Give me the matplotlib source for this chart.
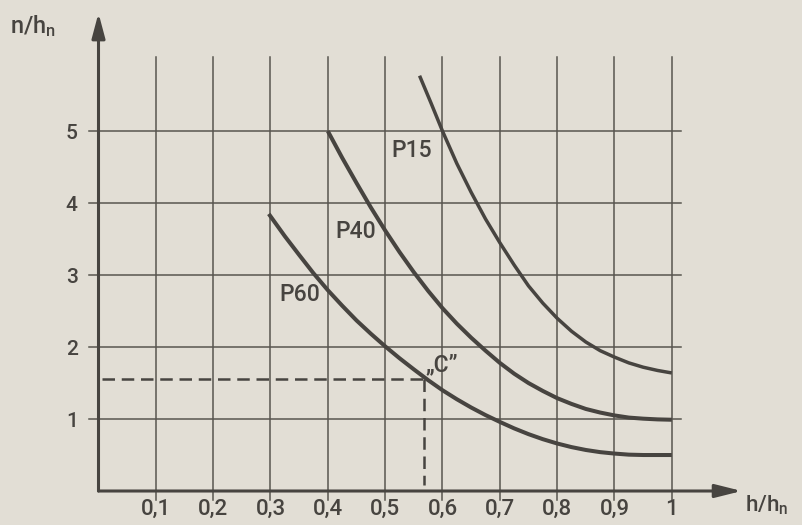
import matplotlib
matplotlib.use("Agg")
import matplotlib.pyplot as plt

# ---- data ----
x_ticks = [0.1, 0.2, 0.3, 0.4, 0.5, 0.6, 0.7, 0.8, 0.9, 1.0]
x_tick_labels = ["0,1", "0,2", "0,3", "0,4", "0,5", "0,6", "0,7", "0,8", "0,9", "1"]
y_ticks = [1, 2, 3, 4, 5]
y_tick_labels = ["1", "2", "3", "4", "5"]

p15_x = [0.56, 0.58, 0.60, 0.625, 0.65, 0.675, 0.70, 0.725, 0.75, 0.775, 0.80,
         0.825, 0.85, 0.875, 0.90, 0.925, 0.95, 0.975, 1.00]
p15_y = [5.77, 5.39, 5.00, 4.55, 4.15, 3.78, 3.45, 3.14, 2.85, 2.61, 2.40,
         2.22, 2.07, 1.95, 1.86, 1.78, 1.72, 1.675, 1.64]

p40_x = [0.40, 0.425, 0.45, 0.475, 0.50, 0.525, 0.55, 0.575, 0.60, 0.625, 0.65,
         0.675, 0.70, 0.725, 0.75, 0.775, 0.80, 0.825, 0.85, 0.875, 0.90, 0.925,
         0.95, 0.975, 1.00]
p40_y = [5.00, 4.63, 4.28, 3.94, 3.62, 3.32, 3.04, 2.78, 2.54, 2.325, 2.13,
         1.95, 1.78, 1.63, 1.50, 1.39, 1.29, 1.21, 1.14, 1.09, 1.05, 1.02,
         1.005, 0.995, 0.99]

p60_x = [0.297, 0.325, 0.35, 0.375, 0.40, 0.425, 0.45, 0.475, 0.50, 0.525, 0.55,
         0.575, 0.60, 0.625, 0.65, 0.675, 0.70, 0.725, 0.75, 0.775, 0.80, 0.825,
         0.85, 0.875, 0.90, 0.925, 0.95, 0.975, 1.00]
p60_y = [3.85, 3.54, 3.28, 3.025, 2.79, 2.575, 2.37, 2.185, 2.01, 1.845, 1.69,
         1.54, 1.40, 1.275, 1.16, 1.055, 0.96, 0.87, 0.79, 0.72, 0.66, 0.61,
         0.57, 0.54, 0.52, 0.505, 0.50, 0.50, 0.50]

curve_labels = ["P15", "P40", "P60"]
label_pos = [(0.547, 4.73), (0.449, 3.61), (0.351, 2.73)]

point_c = (0.567, 1.55)
point_c_label = "\u201eC\u201d"

# ---- style ----
BG = "#e2ded5"
INK = "#474440"
GRID = "#58554f"
FONT = ["Roboto", "Liberation Sans", "DejaVu Sans"]
WEIGHT = 500

plt.rcParams["mathtext.fontset"] = "custom"
plt.rcParams["mathtext.rm"] = "Roboto:medium"
plt.rcParams["mathtext.it"] = "Roboto:medium"

fig = plt.figure(figsize=(8.03, 5.25), dpi=100)
fig.patch.set_facecolor(BG)
ax = fig.add_axes([98.5 / 803, 34 / 525, 582.5 / 803, 434 / 525])
ax.set_facecolor(BG)
ax.set_xlim(0, 1.016)
ax.set_ylim(0, 6.03)
for s in ax.spines.values():
    s.set_visible(False)

# grid
for xv in x_ticks:
    ax.plot([xv, xv], [-0.12, 6.03], color=GRID, lw=1.1, clip_on=False, zorder=1)
for yv in y_ticks:
    ax.plot([-0.017, 1.016], [yv, yv], color=GRID, lw=1.1, clip_on=False, zorder=1)

# axes with arrows
ax.annotate("", xy=(0, 6.64), xytext=(0, 0), xycoords="data",
            arrowprops=dict(arrowstyle="-|>,head_length=0.75,head_width=0.2",
                            mutation_scale=20, lw=2.2, color=INK,
                            shrinkA=0, shrinkB=0), annotation_clip=False, zorder=4)
ax.annotate("", xy=(1.122, 0), xytext=(0, 0), xycoords="data",
            arrowprops=dict(arrowstyle="-|>,head_length=0.8,head_width=0.2",
                            mutation_scale=20, lw=2.2, color=INK,
                            shrinkA=0, shrinkB=0), annotation_clip=False, zorder=4)

# curves
for xs, ys, lw in [(p15_x, p15_y, 2.5), (p40_x, p40_y, 2.9), (p60_x, p60_y, 2.9)]:
    ax.plot(xs, ys, color=INK, lw=lw, solid_capstyle="butt",
            solid_joinstyle="round", zorder=3)

for txt, (lx, ly) in zip(curve_labels, label_pos):
    ax.text(lx, ly, txt, ha="center", va="center", fontsize=16.5,
            color=INK, family=FONT, weight=WEIGHT, zorder=5)

# point C dashed construction lines
cx, cy = point_c
ax.plot([0.006, cx], [cy, cy], color=INK, lw=1.8, dashes=(5, 2.7), zorder=2)
ax.plot([cx, cx], [cy, 0.08], color=INK, lw=1.8, dashes=(5, 2.7), zorder=2)
ax.text(cx + 0.004, cy + 0.04, point_c_label, ha="left", va="bottom",
        fontsize=16.5, color=INK, family=FONT, weight=WEIGHT, zorder=5)

# ticks
ax.set_xticks(x_ticks)
ax.set_xticklabels(x_tick_labels, family=FONT, fontsize=16, color=INK, weight=WEIGHT)
ax.set_yticks(y_ticks)
ax.set_yticklabels(y_tick_labels, family=FONT, fontsize=15, color=INK, weight=WEIGHT)
ax.tick_params(axis="x", length=0, pad=6)
ax.tick_params(axis="y", length=0, pad=15)

# axis labels
ax.text(-0.154, 6.36, r"$\mathregular{n/h_n}$", ha="left", va="baseline",
        fontsize=17, color=INK, family=FONT, weight=WEIGHT)
ax.text(1.127, -0.29, r"$\mathregular{h/h_n}$", ha="left", va="baseline",
        fontsize=16, color=INK, family=FONT, weight=WEIGHT)

fig.savefig("out.png", dpi=100, facecolor=BG)
